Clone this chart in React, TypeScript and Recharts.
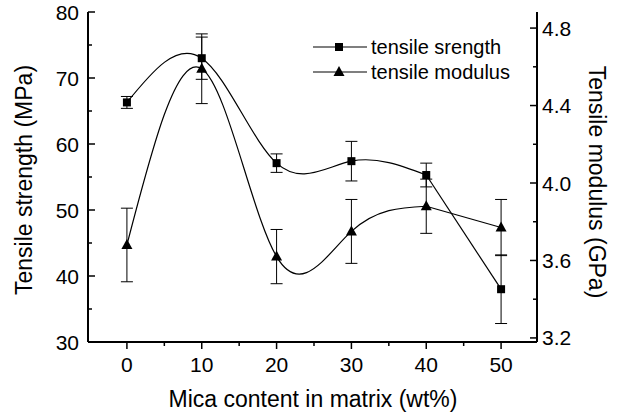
import React from 'react';
import { ComposedChart, Line, XAxis, YAxis, ErrorBar, Label } from 'recharts';

// mica content (wt%) and measured values
const mica = [0, 10, 20, 30, 40, 50];
const strength = [66.3, 73.0, 57.1, 57.4, 55.3, 38.0];
const strengthErr = [0.9, 3.2, 1.4, 3.0, 1.8, 5.2];
const modulus = [3.68, 4.59, 3.62, 3.75, 3.88, 3.77];
const modulusErr = [0.19, 0.18, 0.14, 0.165, 0.14, 0.145];

const seriesNames = ['tensile srength', 'tensile modulus'];
const xTitle = 'Mica content in matrix (wt%)';
const leftTitle = 'Tensile strength (MPa)';
const rightTitle = 'Tensile modulus (GPa)';

const xTicks = [0, 5, 10, 15, 20, 25, 30, 35, 40, 45, 50];
const leftTicks = [30, 35, 40, 45, 50, 55, 60, 65, 70, 75, 80];
const rightTicks = [3.2, 3.4, 3.6, 3.8, 4.0, 4.2, 4.4, 4.6, 4.8];

// spline through 0..40 wt%, straight segment from 40 to 50
const splitAt = 4;

const rows = mica.map((m, i) => ({
  x: m,
  strength: strength[i],
  strengthErr: strengthErr[i],
  modulus: modulus[i],
  modulusErr: modulusErr[i],
  strengthSmooth: i <= splitAt ? strength[i] : null,
  strengthTail: i >= splitAt ? strength[i] : null,
  modulusSmooth: i <= splitAt ? modulus[i] : null,
  modulusTail: i >= splitAt ? modulus[i] : null,
}));

const FONT = '"Liberation Sans", Arial, sans-serif';
const INK = '#000';

const BottomTick = (props: any) => {
  const { x, y, payload } = props;
  const major = payload.value % 10 === 0;
  return (
    <g>
      <line x1={x} y1={y} x2={x} y2={y + (major ? 7 : 4)} stroke={INK} strokeWidth={1.5} />
      {major && (
        <text x={x} y={y + 30} textAnchor="middle" fontSize={21} fontFamily={FONT} fill={INK}>
          {payload.value}
        </text>
      )}
    </g>
  );
};

const TopTick = (props: any) => {
  const { x, y, payload } = props;
  const major = payload.value % 10 === 0;
  return <line x1={x} y1={y} x2={x} y2={y + (major ? 7 : 4)} stroke={INK} strokeWidth={1.5} />;
};

const LeftTick = (props: any) => {
  const { x, y, payload } = props;
  const major = payload.value % 10 === 0;
  return (
    <g>
      <line x1={x} y1={y} x2={x + (major ? 7 : 4)} y2={y} stroke={INK} strokeWidth={1.5} />
      {major && (
        <text x={x - 9} y={y} dy="0.36em" textAnchor="end" fontSize={21} fontFamily={FONT} fill={INK}>
          {payload.value}
        </text>
      )}
    </g>
  );
};

const RightTick = (props: any) => {
  const { x, y, payload } = props;
  const major = Math.round(payload.value * 10) % 4 === 0;
  return (
    <g>
      <line x1={x} y1={y} x2={x - (major ? 7 : 4)} y2={y} stroke={INK} strokeWidth={1.5} />
      {major && (
        <text x={x + 5} y={y} dy="0.36em" textAnchor="start" fontSize={21} fontFamily={FONT} fill={INK}>
          {payload.value.toFixed(1)}
        </text>
      )}
    </g>
  );
};

const squareDot = (p: any) => (
  <rect key={`sq-${p.index}`} x={p.cx - 4} y={p.cy - 4} width={8} height={8} fill={INK} />
);

const triangleDot = (p: any) => (
  <polygon
    key={`tr-${p.index}`}
    points={`${p.cx},${p.cy - 6} ${p.cx - 5.5},${p.cy + 4} ${p.cx + 5.5},${p.cy + 4}`}
    fill={INK}
  />
);

const titleStyle = { fontSize: 23, fontFamily: FONT, fill: INK };

export default function App() {
  return (
    <div style={{ position: 'absolute', left: 0, top: 0, width: 620, height: 416, background: '#fff' }}>
      <ComposedChart width={620} height={416} data={rows} margin={{ top: 12, right: 0, bottom: 0, left: 0 }}>
        <XAxis
          xAxisId="bottom"
          dataKey="x"
          type="number"
          domain={[-5.2, 54.8]}
          ticks={xTicks}
          height={74}
          tickSize={0}
          tickMargin={0}
          tickLine={false}
          axisLine={{ stroke: INK, strokeWidth: 2 }}
          tick={BottomTick}
          interval={0}
        >
          <Label
            content={() => (
              <text x={313} y={407} textAnchor="middle" {...titleStyle}>
                {xTitle}
              </text>
            )}
          />
        </XAxis>
        <XAxis
          xAxisId="top"
          orientation="top"
          dataKey="x"
          type="number"
          domain={[-5.2, 54.8]}
          ticks={xTicks}
          height={0}
          tickSize={0}
          tickMargin={0}
          tickLine={false}
          axisLine={{ stroke: INK, strokeWidth: 2 }}
          tick={TopTick}
          interval={0}
        />
        <YAxis
          yAxisId="left"
          type="number"
          domain={[30, 80]}
          ticks={leftTicks}
          width={88}
          tickSize={0}
          tickMargin={0}
          tickLine={false}
          axisLine={{ stroke: INK, strokeWidth: 2 }}
          tick={LeftTick}
          interval={0}
        >
          <Label
            content={() => (
              <text x={24} y={180} transform="rotate(-90 24 180)" textAnchor="middle" dy="0.36em" {...titleStyle}>
                {leftTitle}
              </text>
            )}
          />
        </YAxis>
        <YAxis
          yAxisId="right"
          orientation="right"
          type="number"
          domain={[3.179, 4.883]}
          ticks={rightTicks}
          width={83}
          tickSize={0}
          tickMargin={0}
          tickLine={false}
          axisLine={{ stroke: INK, strokeWidth: 2 }}
          tick={RightTick}
          interval={0}
        >
          <Label
            content={() => (
              <text x={597} y={182} transform="rotate(90 597 182)" textAnchor="middle" dy="0.36em" {...titleStyle}>
                {rightTitle}
              </text>
            )}
          />
        </YAxis>

        <Line xAxisId="bottom" yAxisId="left" type="natural" dataKey="strengthSmooth" stroke={INK} strokeWidth={1.2} dot={false} activeDot={false} isAnimationActive={false} />
        <Line xAxisId="bottom" yAxisId="left" type="linear" dataKey="strengthTail" stroke={INK} strokeWidth={1.2} dot={false} activeDot={false} isAnimationActive={false} />
        <Line xAxisId="bottom" yAxisId="right" type="natural" dataKey="modulusSmooth" stroke={INK} strokeWidth={1.2} dot={false} activeDot={false} isAnimationActive={false} />
        <Line xAxisId="bottom" yAxisId="right" type="linear" dataKey="modulusTail" stroke={INK} strokeWidth={1.2} dot={false} activeDot={false} isAnimationActive={false} />

        <Line
          xAxisId="bottom"
          yAxisId="left"
          name={seriesNames[0]}
          dataKey="strength"
          stroke="none"
          dot={squareDot}
          activeDot={false}
          isAnimationActive={false}
        >
          <ErrorBar dataKey="strengthErr" direction="y" width={6} stroke={INK} strokeWidth={1} />
        </Line>
        <Line
          xAxisId="bottom"
          yAxisId="right"
          name={seriesNames[1]}
          dataKey="modulus"
          stroke="none"
          dot={triangleDot}
          activeDot={false}
          isAnimationActive={false}
        >
          <ErrorBar dataKey="modulusErr" direction="y" width={6} stroke={INK} strokeWidth={1} />
        </Line>
      </ComposedChart>

      {/* legend, top right inside the plot */}
      <svg width={620} height={416} style={{ position: 'absolute', left: 0, top: 0, pointerEvents: 'none' }}>
        {seriesNames.map((name, i) => {
          const y = 47 + i * 25;
          return (
            <g key={name}>
              <line x1={313} y1={y} x2={367} y2={y} stroke={INK} strokeWidth={1.2} />
              {i === 0 ? squareDot({ cx: 339, cy: y, index: 'lg' }) : triangleDot({ cx: 339, cy: y, index: 'lg' })}
              <text x={371} y={y} dy="0.36em" fontSize={20} fontFamily={FONT} fill={INK}>
                {name}
              </text>
            </g>
          );
        })}
      </svg>
    </div>
  );
}
